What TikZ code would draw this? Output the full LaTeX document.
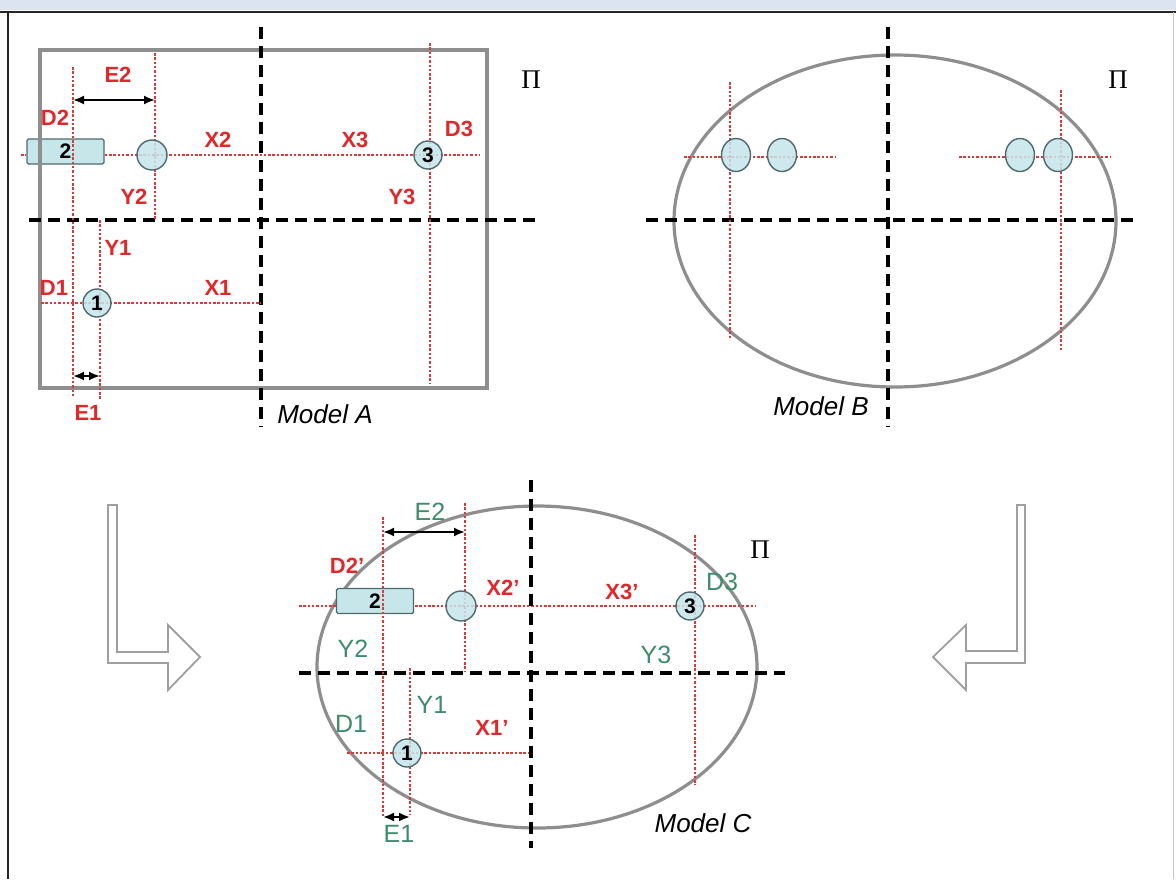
\documentclass[tikz,border=0pt]{standalone}
\usepackage{fontspec}
\setmainfont{Liberation Sans}
\newfontfamily\piserif{Liberation Serif}
\usetikzlibrary{arrows.meta,shapes.geometric}
\definecolor{lblred}{HTML}{E0282A}
\definecolor{lblgreen}{HTML}{3E8C6E}
\definecolor{guidered}{HTML}{D93A3A}
\definecolor{outlinegray}{HTML}{8E8E8E}
\definecolor{dotfill}{HTML}{C6E6EA}
\definecolor{dotedge}{HTML}{4F6A6E}
\definecolor{topband}{HTML}{DCE5EF}
\tikzset{
 axis/.style={line width=3.6pt, dash pattern=on 12pt off 7pt, black},
 guide/.style={guidered, line width=1.4pt, dash pattern=on 2.5pt off 1.8pt},
 frameshape/.style={draw=outlinegray, line width=3.2pt},
 ball/.style={circle, draw=dotedge, line width=1.4pt, fill=dotfill, fill opacity=0.85, text opacity=1, minimum size=#1, inner sep=0pt, font=\bfseries\fontsize{21}{21}\selectfont},
 ball/.default=28pt,
 oval/.style={ellipse, draw=dotedge, line width=1.4pt, fill=dotfill, fill opacity=0.85, minimum width=29pt, minimum height=33pt, inner sep=0pt},
 bar/.style={rectangle, draw=dotedge, line width=1.4pt, fill=dotfill, minimum width=77pt, minimum height=25pt, inner sep=0pt, rounded corners=1.5pt, font=\bfseries\fontsize{21}{21}\selectfont},
 rlab/.style={text=lblred, font=\bfseries\fontsize{22}{22}\selectfont, inner sep=0pt},
 glab/.style={text=lblgreen, font=\fontsize{25}{25}\selectfont, inner sep=0pt},
 mlab/.style={font=\itshape\fontsize{26}{26}\selectfont, inner sep=0pt},
 pilab/.style={font=\piserif\fontsize{27}{27}\selectfont, inner sep=0pt},
 span/.style={{Latex[length=11pt,width=9pt]}-{Latex[length=11pt,width=9pt]}, line width=2pt},
 bigarrow/.style={draw=gray!75, line width=1.8pt, fill=white, line join=miter},
}
\begin{document}
\begin{tikzpicture}[x=1pt,y=-1pt]
\useasboundingbox (0,0) rectangle (1176,879);
\fill[white] (0,0) rectangle (1176,879);
% page frame
\fill[topband] (0,0) rectangle (1176,10);
\draw[line width=1.8pt, black!85] (0,12) -- (1176,12);
\draw[line width=2.2pt, black!85] (8,12) -- (8,879);
\draw[line width=0.8pt, gray!45] (1173,12) -- (1173,879);

%================ Model A =================
\node[bar] (A2) at (65.5,151.5) {2};
\draw[frameshape] (40,50) rectangle (487,388);
\coordinate (Avt) at (261,27);  \coordinate (Avb) at (261,427);
\coordinate (Ahl) at (29,220);  \coordinate (Ahr) at (536,220);
\draw[axis] (Avt) -- (Avb);
\draw[axis] (Ahl) -- (Ahr);
\coordinate (Ag1t) at (73,67);   \coordinate (Ag1b) at (73,397);
\coordinate (Ag2t) at (100,220); \coordinate (Ag2b) at (100,400);
\coordinate (Ag3t) at (155,53);  \coordinate (Ag3b) at (155,220);
\coordinate (Ag4t) at (430,43);  \coordinate (Ag4b) at (430,383);
\coordinate (Ah1r) at (480,155); \coordinate (Ah0l) at (21,155);
\coordinate (Ah2l) at (41,303);  \coordinate (Ah2r) at (261,303);
\draw[guide] (Ag1t) -- (Ag1b);
\draw[guide] (Ag2t) -- (Ag2b);
\draw[guide] (Ag3t) -- (Ag3b);
\draw[guide] (Ag4t) -- (Ag4b);
\draw[guide] (A2.east |- Ah1r) -- (Ah1r);
\draw[guide] (Ah0l) -- (A2.west |- Ah0l);
\draw[guide] (Ah2l) -- (Ah2r);
\coordinate (AE2l) at (73,100); \coordinate (AE2r) at (155,100);
\coordinate (AE1l) at (73,376); \coordinate (AE1r) at (100,376);
\draw[span] (AE2l) -- (AE2r);
\draw[span] (AE1l) -- (AE1r);
\node[ball=30pt] (Ac) at (152,155) {};
\node[ball] (A3) at (428,155) {3};
\node[ball] (A1) at (97,303) {1};
\node[rlab] (AlE2) at (118,75) {E2};
\node[rlab] (AlD2) at (55,118) {D2};
\node[rlab] (AlX2) at (218,140) {X2};
\node[rlab] (AlX3) at (355,140) {X3};
\node[rlab] (AlD3) at (459,129) {D3};
\node[rlab] (AlY2) at (134,197) {Y2};
\node[rlab] (AlY3) at (402,197) {Y3};
\node[rlab] (AlY1) at (118,248) {Y1};
\node[rlab] (AlD1) at (54,288) {D1};
\node[rlab] (AlX1) at (218,288) {X1};
\node[rlab] (AlE1) at (88,413) {E1};
\node[mlab] (AlM) at (325,414) {Model A};
\node[pilab] (AlP) at (531,80) {Π};

%================ Model B =================
\draw[draw=outlinegray, line width=3.2pt] (895,221) ellipse [x radius=221, y radius=166];
\coordinate (Bvt) at (888,27);  \coordinate (Bvb) at (888,427);
\coordinate (Bhl) at (646,220); \coordinate (Bhr) at (1138,220);
\draw[axis] (Bvt) -- (Bvb);
\draw[axis] (Bhl) -- (Bhr);
\coordinate (Bg1t) at (730,82);  \coordinate (Bg1b) at (730,340);
\coordinate (Bg2t) at (1061,90); \coordinate (Bg2b) at (1061,350);
\coordinate (Bh1l) at (684,157); \coordinate (Bh1r) at (835,157);
\coordinate (Bh2l) at (959,157); \coordinate (Bh2r) at (1110,157);
\draw[guide] (Bg1t) -- (Bg1b);
\draw[guide] (Bg2t) -- (Bg2b);
\draw[guide] (Bh1l) -- (Bh1r);
\draw[guide] (Bh2l) -- (Bh2r);
\node[oval] (Bc1) at (736,155) {};
\node[oval] (Bc2) at (782,155) {};
\node[oval] (Bc3) at (1020,155) {};
\node[oval] (Bc4) at (1058,155) {};
\node[mlab] (BlM) at (821,406) {Model B};
\node[pilab] (BlP) at (1118,80) {Π};

%================ Model C =================
\draw[draw=outlinegray, line width=3.2pt] (537,667) ellipse [x radius=220, y radius=161];
\coordinate (Ch1l) at (299,606); \coordinate (Ch1r) at (756,606);
\draw[guide] (Ch1l) -- (Ch1r);
\node[bar] (C2) at (375,601) {2};
\coordinate (Cvt) at (531,480);  \coordinate (Cvb) at (531,848);
\coordinate (Chl) at (299,673);  \coordinate (Chr) at (785,673);
\draw[axis] (Cvt) -- (Cvb);
\draw[axis] (Chl) -- (Chr);
\coordinate (Cg1t) at (383,517); \coordinate (Cg1b) at (383,817);
\coordinate (Cg2t) at (465,503); \coordinate (Cg2b) at (465,672);
\coordinate (Cg3t) at (410,668); \coordinate (Cg3b) at (410,815);
\coordinate (Cg4t) at (695,535); \coordinate (Cg4b) at (695,785);
\coordinate (Ch2l) at (347,753); \coordinate (Ch2r) at (529,753);
\draw[guide] (Cg1t) -- (Cg1b);
\draw[guide] (Cg2t) -- (Cg2b);
\draw[guide] (Cg3t) -- (Cg3b);
\draw[guide] (Cg4t) -- (Cg4b);
\draw[guide] (Ch2l) -- (Ch2r);
\coordinate (CE2l) at (383,532); \coordinate (CE2r) at (465,532);
\coordinate (CE1l) at (383,817); \coordinate (CE1r) at (410,817);
\draw[span] (CE2l) -- (CE2r);
\draw[span] (CE1l) -- (CE1r);
\node[ball=30pt] (Cc) at (461,606) {};
\node[ball] (C3) at (690,606) {3};
\node[ball] (C1) at (407,753) {1};
\node[glab] (ClE2) at (430,512) {E2};
\node[rlab] (ClD2) at (347,566) {D2'};
\node[rlab] (ClX2) at (503,588) {X2'};
\node[rlab] (ClX3) at (622,592) {X3'};
\node[glab] (ClD3) at (722,582) {D3};
\node[glab] (ClY2) at (353,649) {Y2};
\node[glab] (ClY3) at (656,655) {Y3};
\node[glab] (ClY1) at (432,705) {Y1};
\node[glab] (ClD1) at (351,724) {D1};
\node[rlab] (ClX1) at (492,728) {X1'};
\node[glab] (ClE1) at (399,834) {E1};
\node[mlab] (ClM) at (703,823) {Model C};
\node[pilab] (ClP) at (760,550) {Π};

%================ big arrows =================
\draw[bigarrow] (108,505) -- (117,505) -- (117,652) -- (168,652) -- (168,625)
  -- (200,657) -- (168,690) -- (168,663) -- (108,663) -- cycle;
\draw[bigarrow] (1017,505) -- (1025,505) -- (1025,663) -- (966,663) -- (966,690)
  -- (933,657) -- (966,625) -- (966,651) -- (1017,651) -- cycle;
\end{tikzpicture}
\end{document}
